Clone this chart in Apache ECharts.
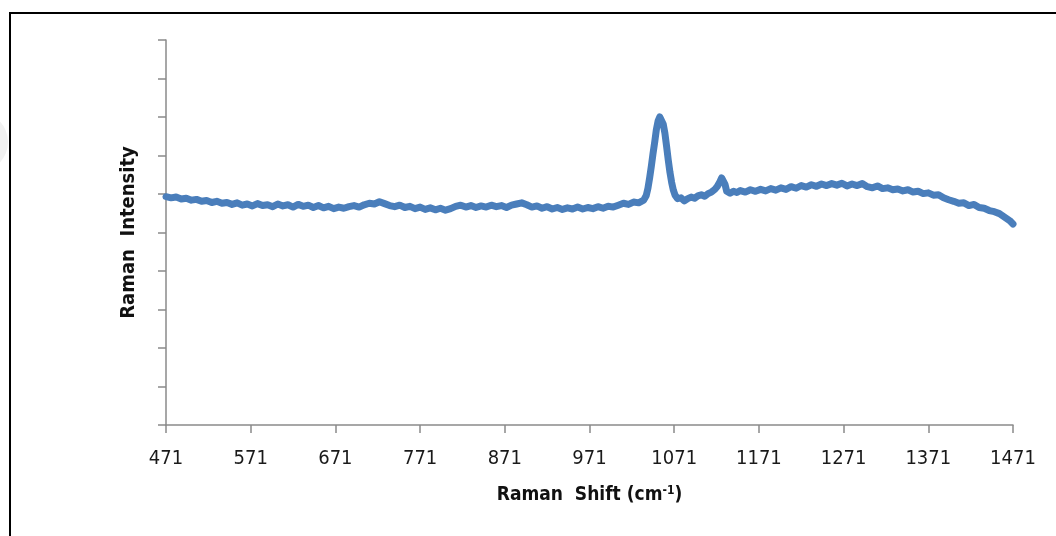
<!DOCTYPE html>
<html>
<head>
<meta charset="utf-8">
<title>Raman spectrum</title>
<script src="https://cdn.jsdelivr.net/npm/echarts@6/dist/echarts.min.js"></script>
<style>
  html, body { margin: 0; padding: 0; background: #ffffff; }
  #chart { width: 1056px; height: 536px; }
</style>
</head>
<body>
<div id="chart"></div>
<script>
// Raman shift (cm-1) of each sample point
const ramanShift = [
  471, 477, 483, 489, 495, 501, 507, 513, 519, 525, 531, 537, 543, 549, 555, 561, 567, 573, 579, 585,
  591, 597, 603, 609, 615, 621, 627, 633, 639, 645, 651, 657, 663, 669, 675, 681, 687, 693, 699, 705,
  711, 717, 723, 729, 735, 741, 747, 753, 759, 765, 771, 777, 783, 789, 795, 801, 807, 813, 819, 825,
  831, 837, 843, 849, 855, 861, 867, 873, 879, 885, 891, 897, 903, 909, 915, 921, 927, 933, 939, 945,
  951, 957, 963, 969, 975, 981, 987, 993, 999, 1005, 1011, 1017, 1023, 1029, 1035,
  1038, 1040, 1042, 1044, 1046, 1048, 1050, 1052, 1054, 1056, 1058, 1060, 1062, 1064, 1066, 1068,
  1070, 1072, 1075, 1079, 1083, 1087, 1091, 1095, 1099, 1103, 1107, 1111, 1115, 1119, 1122, 1125,
  1127, 1129, 1131, 1133, 1137, 1141, 1145, 1149,
  1155, 1161, 1167, 1173, 1179, 1185, 1191, 1197, 1203, 1209, 1215, 1221, 1227, 1233, 1239, 1245,
  1251, 1257, 1263, 1269, 1275, 1281, 1287, 1293, 1299, 1305, 1311, 1317, 1323, 1329, 1335, 1341,
  1347, 1353, 1359, 1365, 1371, 1377, 1383, 1389, 1395, 1401, 1407, 1413, 1419, 1425, 1431, 1437,
  1443, 1449, 1455, 1461, 1467, 1471
];

// Measured intensity (arbitrary units) at each Raman shift
const intensity = [
  593, 590, 592, 587, 589, 584, 586, 581, 583, 578, 581, 576, 578, 573, 577, 571, 574, 569, 575, 570,
  572, 567, 574, 569, 572, 566, 573, 568, 571, 565, 570, 564, 568, 562, 566, 563, 567, 570, 566, 572,
  576, 574, 580, 575, 570, 567, 571, 565, 568, 562, 566, 560, 564, 559, 563, 558, 562, 568, 571, 566,
  570, 565, 569, 566, 571, 567, 570, 565, 571, 574, 577, 572, 566, 569, 563, 567, 561, 565, 560, 564,
  561, 566, 561, 565, 562, 567, 563, 568, 566, 571, 576, 573, 579, 577, 584,
  596, 615, 642, 672, 705, 735, 768, 790, 800, 796, 782, 758, 724, 688, 656, 630,
  610, 597, 588, 590, 582, 588, 592, 589, 595, 598, 594, 601, 605, 612, 620, 632,
  642, 646, 625, 607, 602, 607, 604, 609,
  605, 611, 607, 612, 608, 614, 610, 616, 612, 619, 615, 622, 618, 624, 620, 626,
  622, 627, 623, 628, 621, 626, 622, 627, 619, 616, 621, 614, 616, 611, 613, 608,
  611, 605, 607, 601, 603, 597, 598, 590, 585, 581, 576, 577, 570, 573, 565, 563,
  557, 554, 549, 540, 531, 522
];

// Tick labels along the Raman shift axis
const shiftTicks = ['471', '571', '671', '771', '871', '971', '1071', '1171', '1271', '1371', '1471'];

const X_START = 471;    // first tick of the shift axis
const X_STEP = 100;     // spacing between shift ticks
const Y_MAX = 1000;     // top of the intensity axis
const Y_STEP = 100;     // spacing between intensity ticks

// The shift axis is laid out relative to its first tick so ticks land on 471, 571, ...
const seriesData = ramanShift.map((x, i) => [x - X_START, intensity[i]]);

const axisGrey = '#8a8a8a';
const textFont = '"DejaVu Sans Condensed", "DejaVu Sans", sans-serif';

const chart = echarts.init(document.getElementById('chart'), null, { renderer: 'canvas' });

chart.setOption({
  animation: false,
  backgroundColor: '#ffffff',
  grid: { left: 166, right: 43, top: 40, bottom: 111, containLabel: false },
  xAxis: {
    type: 'value',
    min: 0,
    max: X_STEP * (shiftTicks.length - 1),
    interval: X_STEP,
    name: '{t|Raman  Shift (cm}{s|-1}{t|)}',
    nameLocation: 'middle',
    nameGap: 60,
    nameTextStyle: {
      rich: {
        t: { fontFamily: textFont, fontSize: 19, fontWeight: 'bold', color: '#111111' },
        s: { fontFamily: textFont, fontSize: 12, fontWeight: 'bold', color: '#111111', verticalAlign: 'top', padding: [0, 0, 8, 0] }
      }
    },
    axisLine: { show: true, lineStyle: { color: axisGrey, width: 1.5 } },
    axisTick: { show: true, inside: false, length: 8, lineStyle: { color: axisGrey, width: 1.5 } },
    axisLabel: {
      margin: 24,
      fontFamily: textFont,
      fontSize: 20,
      color: '#1a1a1a',
      formatter: (v) => shiftTicks[Math.round(v / X_STEP)] || ''
    },
    splitLine: { show: false }
  },
  yAxis: {
    type: 'value',
    min: 0,
    max: Y_MAX,
    interval: Y_STEP,
    name: 'Raman  Intensity',
    nameLocation: 'middle',
    nameRotate: 90,
    nameGap: 27,
    nameTextStyle: { fontFamily: textFont, fontSize: 20, fontWeight: 'bold', color: '#111111' },
    axisLine: { show: true, lineStyle: { color: axisGrey, width: 1.5 } },
    axisTick: { show: true, inside: false, length: 8, lineStyle: { color: axisGrey, width: 1.5 } },
    axisLabel: { show: false },
    splitLine: { show: false }
  },
  graphic: [
    {
      type: 'circle',
      silent: true,
      z: -1,
      shape: { cx: -22, cy: 142, r: 30 },
      style: { fill: '#f1f1f1' }
    },
    {
      type: 'rect',
      silent: true,
      shape: { x: 10, y: 13, width: 1200, height: 700 },
      style: { fill: 'none', stroke: '#000000', lineWidth: 2 }
    }
  ],
  series: [
    {
      type: 'line',
      data: seriesData,
      showSymbol: false,
      smooth: false,
      lineStyle: { color: '#4a7ebb', width: 7, join: 'round', cap: 'round' },
      clip: true
    }
  ]
});
</script>
</body>
</html>
